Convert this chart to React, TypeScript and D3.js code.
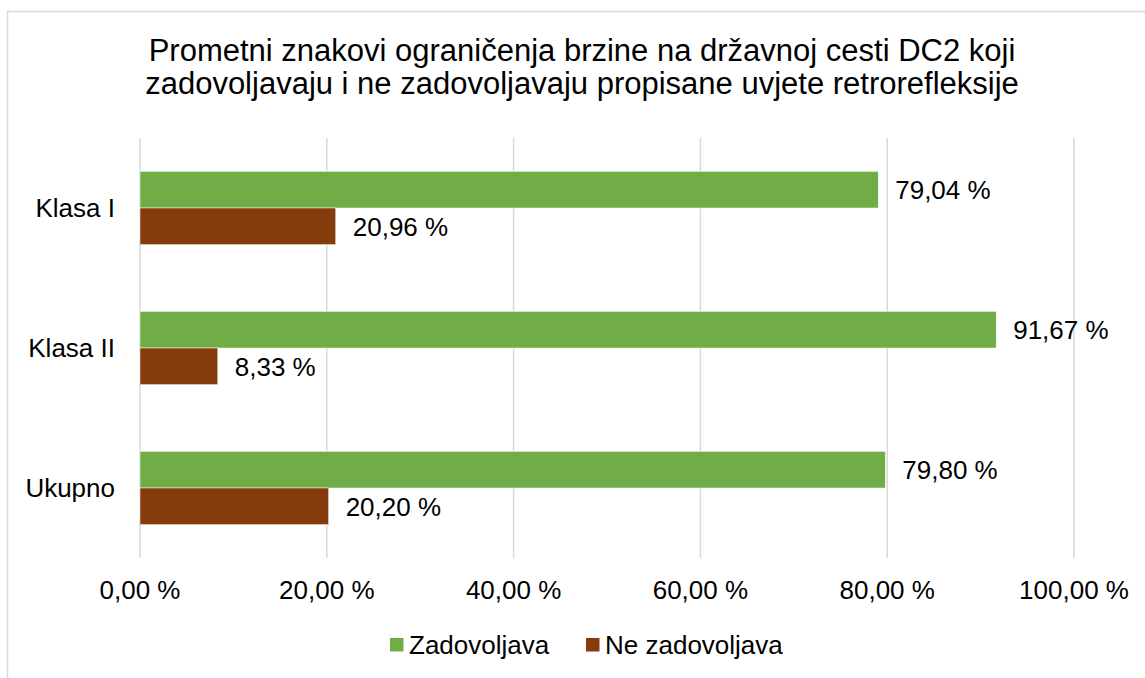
import React from "react";
import * as d3 from "d3";

const categories = ["Klasa I", "Klasa II", "Ukupno"];
const zadovoljava = [79.04, 91.67, 79.8];
const neZadovoljava = [20.96, 8.33, 20.2];
const xTicks = [0, 20, 40, 60, 80, 100];
const seriesNames = ["Zadovoljava", "Ne zadovoljava"];
const titleLines = [
  "Prometni znakovi ograničenja brzine na državnoj cesti DC2 koji",
  "zadovoljavaju i ne zadovoljavaju propisane uvjete retrorefleksije",
];

const W = 1145;
const H = 678;
const FONT = "'Liberation Sans', Arial, sans-serif";
const GREEN = "#70AD47";
const BROWN = "#843C0C";
const GRID = "#d9d9d9";

const fmt = (v: number) => d3.format(".2f")(v).replace(".", ",") + " %";

export default function App() {
  const x = d3.scaleLinear().domain([0, 100]).range([140, 1074]);
  const y = d3.scaleBand<string>().domain(categories).range([138, 558]).paddingInner(0).paddingOuter(0);
  const bh = y.bandwidth() / 3.82;
  const series = [zadovoljava, neZadovoljava];
  const colors = [GREEN, BROWN];

  return (
    <svg
      width={W}
      height={H}
      style={{ position: "absolute", left: 0, top: 0, background: "#fff" }}
      fontFamily={FONT}
    >
      <rect x={0} y={0} width={W} height={H} fill="#fff" />
      <rect x={7.5} y={11.5} width={W + 20} height={H + 20} fill="none" stroke={GRID} strokeWidth={1.5} />
      <text x={582} y={61} textAnchor="middle" fontSize={31} fill="#000">
        {titleLines.map((t, i) => (
          <tspan key={i} x={582} dy={i === 0 ? 0 : 33}>
            {t}
          </tspan>
        ))}
      </text>
      {xTicks.map((t) => (
        <g key={t}>
          <line x1={x(t)} x2={x(t)} y1={138} y2={558} stroke={GRID} strokeWidth={1.5} />
          <text x={x(t)} y={599} textAnchor="middle" fontSize={26} fill="#000">
            {fmt(t)}
          </text>
        </g>
      ))}
      {categories.map((c, ci) => {
        const cy = (y(c) as number) + y.bandwidth() / 2;
        return (
          <g key={c}>
            <text x={115} y={cy + 9} textAnchor="end" fontSize={26} fill="#000">
              {c}
            </text>
            {series.map((s, si) => {
              const top = cy - bh + si * bh;
              return (
                <g key={si}>
                  <rect
                    x={x(0)}
                    y={top}
                    width={x(s[ci]) - x(0)}
                    height={bh}
                    fill={colors[si]}
                    stroke="#fff"
                    strokeWidth={0.5}
                  />
                  <text x={x(s[ci]) + 17} y={top + bh / 2 + 9.5} fontSize={26} fill="#000">
                    {fmt(s[ci])}
                  </text>
                </g>
              );
            })}
          </g>
        );
      })}
      {seriesNames.map((n, i) => {
        const lx = [390, 586][i];
        return (
          <g key={n}>
            <rect x={lx} y={638} width={13.5} height={13.5} fill={colors[i]} />
            <text x={lx + 19} y={654} fontSize={26} fill="#000">
              {n}
            </text>
          </g>
        );
      })}
    </svg>
  );
}
